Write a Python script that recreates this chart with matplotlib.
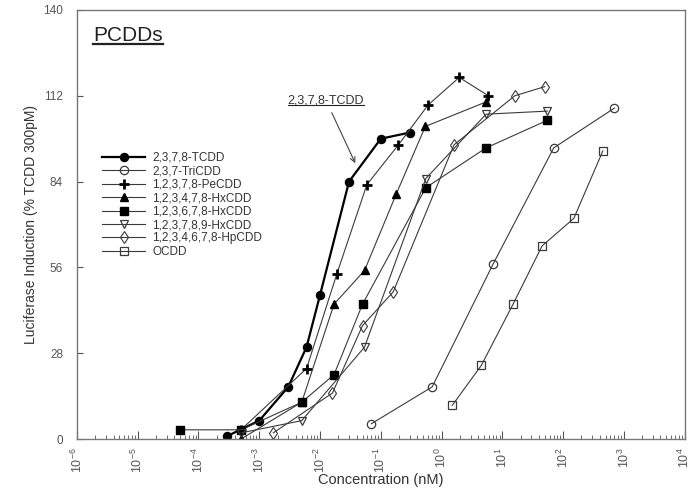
import numpy as np
import matplotlib
matplotlib.use("Agg")
import matplotlib.pyplot as plt
from matplotlib.lines import Line2D
from matplotlib.text import Text
from matplotlib.ticker import LogLocator, FixedLocator

plt.rcParams['font.family'] = ['Liberation Sans', 'DejaVu Sans']
plt.rcParams['mathtext.fontset'] = 'custom'
plt.rcParams['mathtext.rm'] = 'Liberation Sans'

# Concentrations (nM) and induction (% of TCDD 300pM)
tcdd_x = [3e-4, 1e-3, 3e-3, 6e-3, 1e-2, 3e-2, 1e-1, 3e-1]
tcdd_y = [1, 6, 17, 30, 47, 84, 98, 100]

tricdd_x = [0.07, 0.7, 7, 70, 700]
tricdd_y = [5, 17, 57, 95, 108]

pecdd_x = [5e-4, 6e-3, 0.019, 0.059, 0.195, 0.6, 1.95, 5.9]
pecdd_y = [3, 23, 54, 83, 96, 109, 118, 112]

hxcdd478_x = [5e-4, 5e-3, 0.017, 0.054, 0.18, 0.54, 5.4]
hxcdd478_y = [0, 12, 44, 55, 80, 102, 110]

hxcdd678_x = [5e-5, 5e-4, 5e-3, 0.017, 0.05, 0.55, 5.4, 55]
hxcdd678_y = [3, 3, 12, 21, 44, 82, 95, 104]

hxcdd789_x = [5e-4, 5e-3, 0.054, 0.55, 5.4, 55]
hxcdd789_y = [2, 6, 30, 85, 106, 107]

hpcdd_x = [1.7e-3, 0.016, 0.05, 0.16, 1.6, 16, 50]
hpcdd_y = [2, 15, 37, 48, 96, 112, 115]

ocdd_x = [1.5, 4.5, 15, 45, 150, 450]
ocdd_y = [11, 24, 44, 63, 72, 94]

labels = ['2,3,7,8-TCDD', '2,3,7-TriCDD', '1,2,3,7,8-PeCDD', '1,2,3,4,7,8-HxCDD',
          '1,2,3,6,7,8-HxCDD', '1,2,3,7,8,9-HxCDD', '1,2,3,4,6,7,8-HpCDD', 'OCDD']

line_col = '#3a3a3a'
text_col = '#333333'

fig = plt.figure(figsize=(6.93, 4.92), dpi=100)
ax = fig.add_axes([0.111, 0.1077, 0.877, 0.872])

ax.plot(tcdd_x, tcdd_y, color='black', lw=1.6, marker='o', ms=5.8,
        mfc='black', mec='black', label=labels[0])
ax.plot(tricdd_x, tricdd_y, color=line_col, lw=0.8, marker='o', ms=6,
        mfc='none', mec=line_col, mew=0.9, label=labels[1])
ax.plot(pecdd_x, pecdd_y, color=line_col, lw=0.8, marker='+', ms=7,
        mew=2, mec='black', label=labels[2])
ax.plot(hxcdd478_x, hxcdd478_y, color=line_col, lw=0.8, marker='^', ms=5.5,
        mfc='black', mec='black', label=labels[3])
ax.plot(hxcdd678_x, hxcdd678_y, color=line_col, lw=0.8, marker='s', ms=5.8,
        mfc='black', mec='black', label=labels[4])
ax.plot(hxcdd789_x, hxcdd789_y, color=line_col, lw=0.8, marker='v', ms=5.5,
        mfc='none', mec=line_col, mew=0.9, label=labels[5])
ax.plot(hpcdd_x, hpcdd_y, color=line_col, lw=0.8, marker='d', ms=6,
        mfc='none', mec=line_col, mew=0.8, label=labels[6])
ax.plot(ocdd_x, ocdd_y, color=line_col, lw=0.8, marker='s', ms=6,
        mfc='none', mec=line_col, mew=0.9, label=labels[7])

ax.set_xscale('log')
ax.set_xlim(1e-6, 1e4)
ax.set_ylim(0, 140)
ax.xaxis.set_major_locator(LogLocator(base=10, numticks=20))
ax.xaxis.set_minor_locator(LogLocator(base=10, subs=np.arange(2, 10), numticks=200))
ax.yaxis.set_major_locator(FixedLocator([0, 28, 56, 84, 112, 140]))

ax.tick_params(axis='x', which='major', direction='in', length=6, width=0.8,
               colors='#555555', labelsize=9, pad=6, labelrotation=90)
ax.tick_params(axis='x', which='minor', direction='in', length=3, width=0.6, colors='#555555')
ax.tick_params(axis='y', which='major', direction='in', length=4, width=0.8,
               colors='#555555', labelsize=8.5, pad=10)
for sp in ax.spines.values():
    sp.set_color('#777777')
    sp.set_linewidth(1.0)

ax.set_xlabel('Concentration (nM)', fontsize=10.5, color=text_col, labelpad=0)
ax.set_ylabel('Luciferase Induction (% TCDD 300pM)', fontsize=10, color=text_col, labelpad=4)

leg = ax.legend(loc='upper left', bbox_to_anchor=(0.033, 0.68), frameon=False,
                fontsize=8.5, handlelength=3.7, handletextpad=0.6, labelspacing=0.12,
                borderaxespad=0)
for t in leg.get_texts():
    t.set_color(text_col)

title = ax.text(0.027, 0.94, 'PCDDs', transform=ax.transAxes, fontsize=15,
                color='#222222', ha='left', va='center')

ann = ax.annotate('2,3,7,8-TCDD', xy=(0.038, 90), xytext=(0.0125, 110.6),
                  fontsize=9, color=text_col, ha='center', va='center',
                  arrowprops=dict(arrowstyle='->', color='#444444', lw=0.8,
                                  shrinkA=3, shrinkB=0))

# underline the two texts (text box only, not the arrow)
fig.canvas.draw()
renderer = fig.canvas.get_renderer()
inv = fig.transFigure.inverted()
for txt, lw in [(title, 1.6), (ann, 0.8)]:
    bb = Text.get_window_extent(txt, renderer)
    (x0, y0), (x1, y1) = inv.transform([(bb.x0, bb.y0 + 1), (bb.x1, bb.y0 + 1)])
    fig.add_artist(Line2D([x0, x1], [y0, y1], color='#222222', lw=lw))

fig.savefig('out.png', dpi=100)
